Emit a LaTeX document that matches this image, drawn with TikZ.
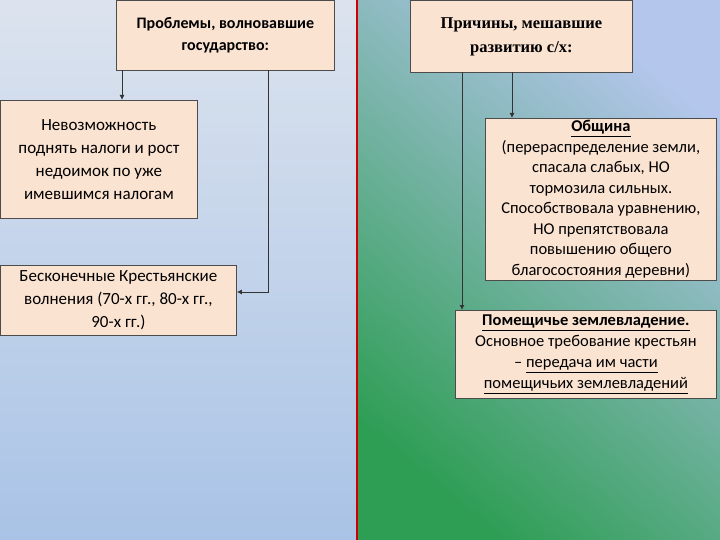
\documentclass[tikz,border=0pt]{standalone}
\usepackage{fontspec}
\setmainfont{Carlito}
\newfontfamily\serifb{Liberation Serif}
\usetikzlibrary{arrows.meta}
\begin{document}
\begin{tikzpicture}[x=1pt,y=-1pt,
  box/.style={draw=black!70,line width=0.8pt,fill=peach,inner sep=1pt,align=center,font=\fontsize{17}{23}\selectfont},
  conn/.style={draw=black!80,line width=0.9pt,-{Latex[length=5pt,width=5pt]}}]
\definecolor{peach}{HTML}{FBE3D2}
\definecolor{lbt}{HTML}{DCE3EE}
\definecolor{lbb}{HTML}{A9C3E6}
\definecolor{rg}{HTML}{2F9E55}
\definecolor{rb}{HTML}{B4C6EC}
\definecolor{redl}{HTML}{D00000}
\useasboundingbox (0,0) rectangle (720,540);
\shade[top color=lbt,bottom color=lbb] (0,0) rectangle (357,540);
\shade[top color=rb,bottom color=rg,shading angle=-40] (357,0) rectangle (720,540);
\draw[redl,line width=1.2pt] (357,0) -- (357,540);
\node[box,minimum width=218,minimum height=70,anchor=north west,font=\bfseries\fontsize{16}{22}\selectfont] (p) at (116,0) {Проблемы, волновавшие\\государство:};
\node[box,minimum width=197,minimum height=118,anchor=north west] (n) at (0,100) {Невозможность\\поднять налоги и рост\\недоимок по уже\\имевшимся налогам};
\node[box,minimum width=236,minimum height=70,anchor=north west] (b) at (0,265) {Бесконечные Крестьянские\\волнения (70-х гг., 80-х гг.,\\90-х гг.)};
\node[box,minimum width=222,minimum height=72,anchor=north west,font=\serifb\bfseries\fontsize{16.5}{24}\selectfont] (r) at (410,0) {Причины, мешавшие\\развитию с/х:};
\node[box,minimum width=231,minimum height=162,anchor=north west,inner sep=0pt,font=\fontsize{16.5}{20.5}\selectfont] (o) at (485,118) {\underline{\textbf{Община}}\\(перераспределение земли,\\спасала слабых, НО\\тормозила сильных.\\Способствовала уравнению,\\НО препятствовала\\повышению общего\\благосостояния деревни)};
\node[box,minimum width=261,minimum height=88,anchor=north west,font=\fontsize{16.5}{21}\selectfont] (m) at (455,310) {\underline{\textbf{Помещичье землевладение.}}\\Основное требование крестьян\\– \underline{передача им части}\\\underline{помещичьих землевладений}};
\draw[conn] (122,70) -- (n.north -| 122,0);
\draw[conn] (268,70) -- (268,292) -- (b.east |- 0,292);
\draw[conn] (512,72) -- (o.north -| 512,0);
\draw[conn] (462,72) -- (m.north -| 462,0);
\end{tikzpicture}
\end{document}
